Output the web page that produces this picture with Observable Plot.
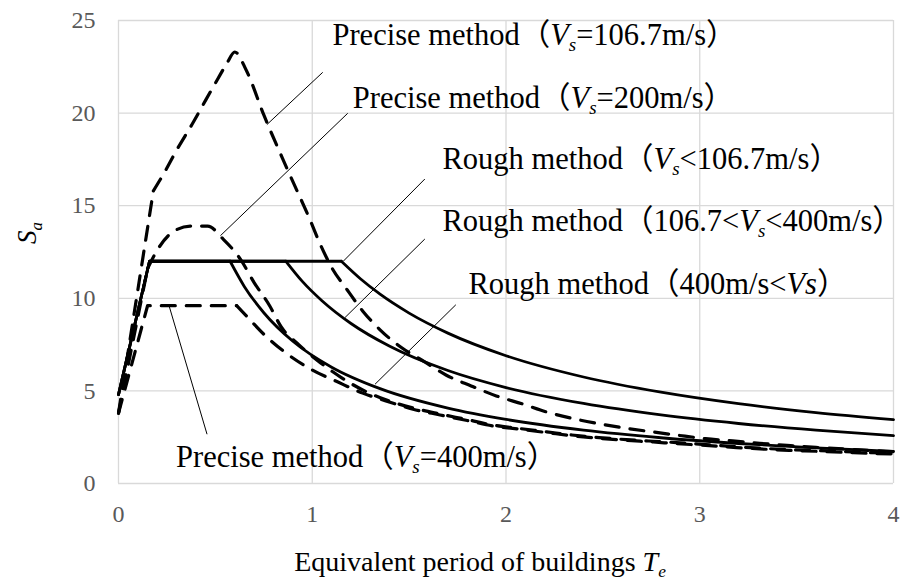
<!DOCTYPE html>
<html>
<head>
<meta charset="utf-8">
<script src="https://cdn.jsdelivr.net/npm/d3@7"></script>
<script src="https://cdn.jsdelivr.net/npm/@observablehq/plot@0.6"></script>
<style>
  body { margin: 0; background: #fff; }
  #chart svg { display: block; }
</style>
</head>
<body>
<div id="chart"></div>
<script>
// Equivalent period T (s) and spectral acceleration Sa for each curve.
// Rough method (solid): rise, plateau at 12, then decay.
const roughLowT   = [0, 0.16, 1.15, 1.25, 1.35, 1.5, 1.7, 2.0, 2.4, 2.8, 3.2, 3.6, 4.0];
const roughLowSa  = [4.8, 12, 12, 11.04, 10.22, 9.2, 8.12, 6.9, 5.75, 4.93, 4.31, 3.83, 3.45];

const roughMidT   = [0, 0.16, 0.864, 0.95, 1.05, 1.2, 1.4, 1.7, 2.0, 2.4, 2.8, 3.2, 3.6, 4.0];
const roughMidSa  = [4.8, 12, 12, 10.9, 9.87, 8.64, 7.41, 6.1, 5.18, 4.32, 3.7, 3.24, 2.88, 2.59];

const roughHighT  = [0, 0.16, 0.576, 0.65, 0.75, 0.9, 1.1, 1.35, 1.7, 2.0, 2.4, 2.8, 3.2, 3.6, 4.0];
const roughHighSa = [4.8, 12, 12, 10.63, 9.22, 7.68, 6.28, 5.12, 4.07, 3.46, 2.88, 2.47, 2.16, 1.92, 1.73];

// Precise method (dashed)
const precise107T  = [0, 0.18, 0.24, 0.30, 0.38, 0.45, 0.51, 0.56, 0.60, 0.66, 0.75, 0.87, 0.99, 1.04, 1.10, 1.18, 1.26, 1.35, 1.46, 1.58, 1.69, 1.82, 1.95, 2.09, 2.21, 2.34, 2.48, 2.62, 2.76, 2.89, 3.03, 3.17, 3.31, 3.45, 3.6, 3.8, 4.0];
const precise107Sa = [3.8, 15.8, 16.85, 18.0, 19.4, 20.7, 21.8, 22.7, 23.3, 22.3, 19.9, 17.0, 14.2, 12.95, 11.67, 10.46, 9.32, 8.3, 7.34, 6.57, 5.86, 5.27, 4.73, 4.28, 3.86, 3.52, 3.23, 2.98, 2.78, 2.6, 2.42, 2.3, 2.17, 2.06, 1.95, 1.83, 1.72];

const precise200T  = [0, 0.15, 0.20, 0.27, 0.37, 0.46, 0.54, 0.63, 0.70, 0.78, 0.84, 0.93, 1.03, 1.15, 1.27, 1.38, 1.52, 1.66, 1.80, 1.93, 2.07, 2.21, 2.34, 2.48, 2.62, 2.76, 2.88, 3.03, 3.19, 3.34, 3.46, 3.60, 3.73, 3.87, 4.0];
const precise200Sa = [3.8, 11.6, 12.6, 13.5, 13.9, 13.9, 13.2, 12.1, 10.85, 9.6, 8.45, 7.5, 6.62, 5.72, 5.0, 4.52, 4.08, 3.75, 3.45, 3.16, 2.97, 2.79, 2.62, 2.48, 2.37, 2.28, 2.21, 2.1, 1.98, 1.89, 1.83, 1.78, 1.73, 1.67, 1.64];

const precise400T  = [0, 0.15, 0.61, 0.66, 0.75, 0.85, 1.0, 1.13, 1.26, 1.38, 1.52, 1.66, 1.80, 1.93, 2.07, 2.21, 2.34, 2.48, 2.62, 2.76, 2.88, 3.03, 3.19, 3.34, 3.46, 3.6, 3.73, 3.87, 4.0];
const precise400Sa = [3.8, 9.6, 9.6, 9.05, 8.06, 7.16, 6.13, 5.49, 4.88, 4.46, 4.01, 3.7, 3.4, 3.11, 2.93, 2.75, 2.58, 2.44, 2.33, 2.24, 2.15, 2.06, 1.94, 1.85, 1.79, 1.74, 1.69, 1.63, 1.6];

// Axis ticks
const xTicks = [0, 1, 2, 3, 4];
const yTicks = [0, 5, 10, 15, 20, 25];

// Curves; points up to "knee" are joined straight, the rest smoothly
const series = [
  {T: roughLowT,   Sa: roughLowSa,   knee: 2, dashed: false},
  {T: roughMidT,   Sa: roughMidSa,   knee: 2, dashed: false},
  {T: roughHighT,  Sa: roughHighSa,  knee: 2, dashed: false},
  {T: precise107T, Sa: precise107Sa, knee: 1, dashed: true},
  {T: precise200T, Sa: precise200Sa, knee: 1, dashed: true},
  {T: precise400T, Sa: precise400Sa, knee: 2, dashed: true}
];

// Leader lines from labels to curves (data units)
const leaders = [
  {x1: 1.054, y1: 22.2,  x2: 0.766, y2: 19.38},
  {x1: 1.183, y1: 19.99, x2: 0.526, y2: 13.38},
  {x1: 1.581, y1: 16.44, x2: 1.16,  y2: 12.0},
  {x1: 1.581, y1: 13.2,  x2: 1.169, y2: 8.96},
  {x1: 1.741, y1: 9.65,  x2: 1.324, y2: 5.36},
  {x1: 0.26,  y1: 9.63,  x2: 0.457, y2: 2.66}
];

// Curve labels: anchor (left, baseline) in data units, text runs
const labels = [
  {x: 1.107, y: 23.65, parts: [["Precise method（"], ["V", "i"], ["s", "sub"], ["=106.7m/s）"]]},
  {x: 1.212, y: 20.23, parts: [["Precise method（"], ["V", "i"], ["s", "sub"], ["=200m/s）"]]},
  {x: 1.675, y: 16.98, parts: [["Rough method（"], ["V", "i"], ["s", "sub"], ["<106.7m/s）"]]},
  {x: 1.675, y: 13.61, parts: [["Rough method（106.7<"], ["V", "i"], ["s", "sub"], ["<400m/s）"]]},
  {x: 1.809, y: 10.23, parts: [["Rough method（400m/s<"], ["Vs", "i"], ["）"]]},
  {x: 0.2995, y: 0.854, parts: [["Precise method（"], ["V", "i"], ["s", "sub"], ["=400m/s）"]]}
];

const gridStyle = {stroke: "#d9d9d9", strokeOpacity: 1, strokeWidth: 1.3};

const lineMarks = series.flatMap(s => {
  const pts = s.T.map((t, i) => ({T: t, Sa: s.Sa[i]}));
  const style = {
    x: "T", y: "Sa", stroke: "black",
    strokeWidth: s.dashed ? 3.2 : 2.8,
    strokeDasharray: s.dashed ? "14,11" : null
  };
  return [
    Plot.line(pts.slice(0, s.knee + 1), {...style, curve: "linear"}),
    Plot.line(pts.slice(s.knee), {...style, curve: "monotone-x"})
  ];
});

const chart = Plot.plot({
  width: 911,
  height: 586,
  marginLeft: 118,
  marginRight: 18,
  marginTop: 20,
  marginBottom: 103,
  style: {fontFamily: "'Liberation Serif', 'Times New Roman', serif", color: "#595959", background: "#fff"},
  x: {domain: [0, 4]},
  y: {domain: [0, 25]},
  marks: [
    Plot.gridX(xTicks, gridStyle),
    Plot.gridY(yTicks, gridStyle),
    Plot.axisX(xTicks, {tickSize: 0, tickPadding: 21, fontSize: 24, label: null, tickFormat: d => String(d)}),
    Plot.axisY(yTicks, {tickSize: 0, tickPadding: 23, fontSize: 24, label: null, tickFormat: d => String(d)}),
    Plot.link(leaders, {x1: "x1", y1: "y1", x2: "x2", y2: "y2", stroke: "black", strokeWidth: 1}),
    ...lineMarks
  ]
});

document.getElementById("chart").appendChild(chart);

// Rich-text labels (italic symbols and subscripts) positioned via the plot scales
const sx = chart.scale("x"), sy = chart.scale("y");
const svg = d3.select(chart);
const labelLayer = svg.append("g")
  .attr("font-family", "'Liberation Serif', 'Times New Roman', 'Noto Sans CJK JP', serif")
  .attr("font-size", 30.5)
  .attr("text-anchor", "start")
  .attr("fill", "black");

function writeRuns(textSel, parts, subShift) {
  let shifted = false;
  for (const [str, kind] of parts) {
    const ts = textSel.append("tspan").text(str);
    if (kind === "i" || kind === "sub") ts.attr("font-style", "italic");
    if (kind === "sub") {
      ts.attr("font-size", "0.62em").attr("dy", subShift);
      shifted = true;
    } else if (shifted) {
      ts.attr("dy", -subShift);
      shifted = false;
    }
  }
}

for (const lab of labels) {
  const t = labelLayer.append("text")
    .attr("x", sx.apply(lab.x))
    .attr("y", sy.apply(lab.y));
  writeRuns(t, lab.parts, 6);
}

// Axis titles
const xTitle = svg.append("text")
  .attr("x", 480)
  .attr("y", 571)
  .attr("text-anchor", "middle")
  .attr("font-size", 28)
  .attr("fill", "black");
writeRuns(xTitle, [["Equivalent period of buildings "], ["T", "i"], ["e", "sub"]], 6);

const yTitle = svg.append("text")
  .attr("transform", "translate(36,233) rotate(-90)")
  .attr("text-anchor", "middle")
  .attr("font-size", 27)
  .attr("fill", "black");
writeRuns(yTitle, [["S", "i"], ["a", "sub"]], 6);
</script>
</body>
</html>
